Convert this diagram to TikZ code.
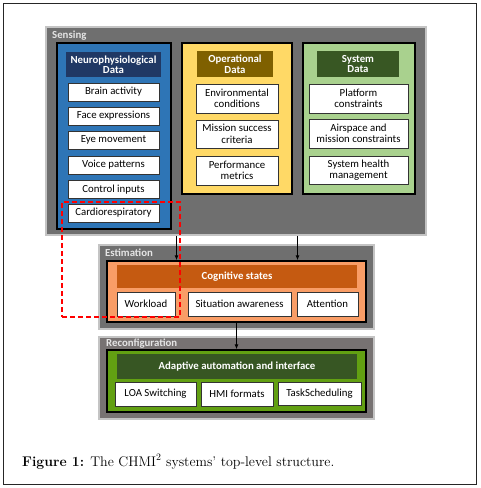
\documentclass[tikz,border=0pt]{standalone}
\usepackage{fontspec}
\usepackage{tikz}
\usetikzlibrary{arrows.meta,positioning,calc}
\newfontfamily\calibri{Carlito}
\definecolor{linegray}{HTML}{C4C4C4}
\definecolor{stagegray}{HTML}{6F6F6F}
\definecolor{stagewarm}{HTML}{777272}
\definecolor{labelgray}{HTML}{E4E4E4}
\definecolor{neuroblue}{HTML}{2E75B6}
\definecolor{neuronavy}{HTML}{203864}
\definecolor{opyellow}{HTML}{FFD966}
\definecolor{opbrown}{HTML}{7F6000}
\definecolor{syslight}{HTML}{A9D18E}
\definecolor{sysdark}{HTML}{385723}
\definecolor{estorange}{HTML}{F99D66}
\definecolor{estrust}{HTML}{C55A11}
\definecolor{recgreen}{HTML}{62A012}
\definecolor{recdark}{HTML}{375623}
\definecolor{redaccent}{HTML}{FF0000}
\tikzset{
  outerframe/.style={draw=black!85, line width=0.9pt, inner sep=0pt},
  stagebox/.style={draw=linegray, line width=1.6pt, fill=stagegray, inner sep=0pt},
  groupbox/.style={draw=black, line width=1.3pt, inner sep=0pt},
  headbox/.style={inner sep=0pt, align=center, text=white, font=\calibri\bfseries\fontsize{10.8}{10.5}\selectfont},
  itembox/.style={draw=black!80, fill=white, line width=0.6pt, inner sep=0pt, align=center, font=\calibri\fontsize{10.8}{11.5}\selectfont},
  stagelabel/.style={anchor=north west, inner sep=0pt, text=labelgray, font=\calibri\bfseries\fontsize{10.8}{11}\selectfont},
  arrow/.style={-{Latex[length=5pt,width=4pt]}, line width=1pt},
  redloop/.style={draw=redaccent, dash pattern=on 5pt off 3pt, line width=1.3pt, inner sep=0pt}
}

\begin{document}
\begin{tikzpicture}[x=1pt,y=-1pt]
  \useasboundingbox (0,0) rectangle (481,488);
  \node[outerframe, minimum width=473pt, minimum height=481pt] (figframe) at (239.5,243.5) {};

  % sensing stage
  \node[stagebox, minimum width=380pt, minimum height=208pt] (sensing) at (236,131) {};
  \node[stagelabel] (sensinglbl) at (52,31) {Sensing};

  \node[groupbox, fill=neuroblue, minimum width=114pt, minimum height=186pt] (neuro) at (114,136) {};
  \node[headbox, fill=neuronavy, minimum width=95pt, minimum height=25pt] (neurohead) at (113.5,64.5) {Neurophysiological\\Data};
  \node[itembox, minimum width=91pt, minimum height=18pt] (brain) at (113.5,92) {Brain activity};
  \node[itembox, minimum width=91pt, minimum height=18pt] (face) at (113.5,116) {Face expressions};
  \node[itembox, minimum width=91pt, minimum height=18pt] (eye) at (113.5,140) {Eye movement};
  \node[itembox, minimum width=91pt, minimum height=18pt] (voice) at (113.5,165) {Voice patterns};
  \node[itembox, minimum width=91pt, minimum height=18pt] (control) at (113.5,189.5) {Control inputs};
  \node[itembox, minimum width=91pt, minimum height=18pt] (cardio) at (113.5,213) {Cardiorespiratory};

  \node[groupbox, fill=opyellow, minimum width=110pt, minimum height=151pt] (oper) at (237,118.5) {};
  \node[headbox, fill=opbrown, minimum width=76pt, minimum height=26pt] (operhead) at (235,64) {Operational\\Data};
  \node[itembox, minimum width=82pt, minimum height=29pt] (environ) at (237,98.5) {Environmental\\conditions};
  \node[itembox, minimum width=82pt, minimum height=28pt] (mission) at (237,134) {Mission success\\criteria};
  \node[itembox, minimum width=82pt, minimum height=29pt] (perform) at (237,170.5) {Performance\\metrics};

  \node[groupbox, fill=syslight, minimum width=112pt, minimum height=151pt] (sys) at (359,118.5) {};
  \node[headbox, fill=sysdark, minimum width=82pt, minimum height=26pt] (syshead) at (358,64) {System\\Data};
  \node[itembox, minimum width=99pt, minimum height=29pt] (platform) at (358.5,98.5) {Platform\\constraints};
  \node[itembox, minimum width=99pt, minimum height=29pt] (airspace) at (358.5,133.5) {Airspace and\\mission constraints};
  \node[itembox, minimum width=99pt, minimum height=28pt] (health) at (358.5,170) {System health\\management};

  % estimation stage
  \node[stagebox, minimum width=275pt, minimum height=84pt] (estimation) at (236.5,287) {};
  \node[stagelabel] (estimationlbl) at (105,249) {Estimation};
  \node[groupbox, fill=estorange, minimum width=259pt, minimum height=61pt] (estcore) at (236.5,291.5) {};
  \node[headbox, fill=estrust, minimum width=240pt, minimum height=23pt] (cognitive) at (237,276.5) {Cognitive states};
  \node[itembox, minimum width=58pt, minimum height=24pt] (workload) at (146,304) {Workload};
  \node[itembox, minimum width=103pt, minimum height=24pt] (situation) at (239.5,304) {Situation awareness};
  \node[itembox, minimum width=61pt, minimum height=24pt] (attention) at (327.5,304) {Attention};

  % reconfiguration stage
  \node[stagebox, fill=stagewarm, minimum width=275pt, minimum height=82pt] (reconfig) at (236.5,378) {};
  \node[stagelabel] (reconfiglbl) at (106,339) {Reconfiguration};
  \node[groupbox, fill=recgreen, minimum width=259pt, minimum height=62pt] (reccore) at (236.5,381) {};
  \node[headbox, fill=recdark, minimum width=240pt, minimum height=25pt] (adaptive) at (237,366.5) {Adaptive automation and interface};
  \node[itembox, minimum width=81pt, minimum height=24pt] (loa) at (155.5,394) {LOA Switching};
  \node[itembox, minimum width=72pt, minimum height=24pt] (hmi) at (237,394) {HMI formats};
  \node[itembox, minimum width=83pt, minimum height=23pt] (tasksched) at (319.5,393.5) {TaskScheduling};

  \coordinate (gapL) at ($(neuro.east)!0.5!(oper.west)$);
  \coordinate (gapR) at ($(oper.east)!0.5!(sys.west)$);
  \draw[arrow] (gapL |- sensing.south) -- (gapL |- estcore.north);
  \draw[arrow] (gapR |- sensing.south) -- (gapR |- estcore.north);
  \draw[arrow] (estcore) -- (reccore);

  \node[redloop, minimum width=118pt, minimum height=115pt] (physloop) at (121,259.5) {};

  \node[anchor=base west, inner sep=0pt, font=\fontsize{14}{16}\selectfont] (caption) at (22,466)
    {\textbf{Figure 1:} The CHMI\textsuperscript{2} systems' top-level structure.};
\end{tikzpicture}
\end{document}
